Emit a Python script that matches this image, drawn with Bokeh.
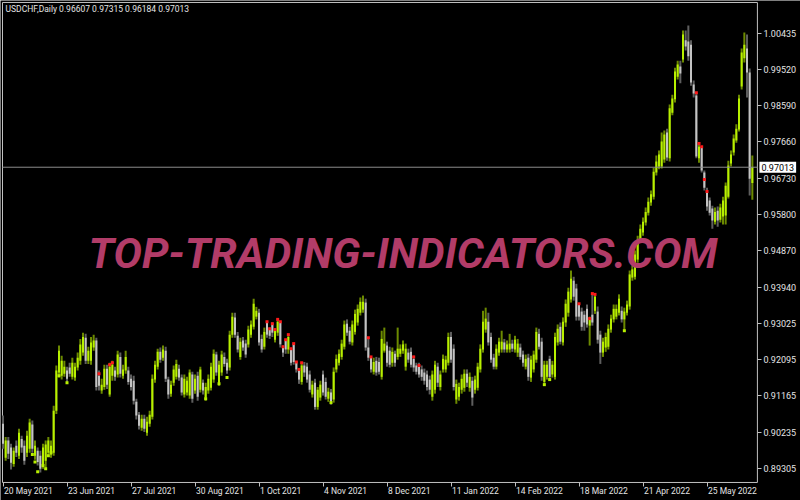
from bokeh.plotting import figure
from bokeh.models import (Range1d, LinearAxis, FixedTicker, Label,
                          ColumnDataSource, PrintfTickFormatter)
from bokeh.embed import file_html
from bokeh.resources import INLINE

# ---------------- data (USDCHF daily) ----------------
header_text = "USDCHF,Daily  0.96607 0.97315 0.96184 0.97013"
watermark_text = "TOP-TRADING-INDICATORS.COM"

opens = [
    .9045, .8958, .9002, .8984, .8942, .8989, .8963, .9006, .8989, .8971,
    .8981, .9043, .8963, .8976, .8963, .8938, .8950, .8971, .8966, .8971,
    .9078, .9176, .9168, .9173, .9181, .9189, .9165, .9163, .9189, .9206,
    .9227, .9265, .9206, .9206, .9240, .9258, .9168, .9130, .9139, .9186,
    .9120, .9168, .9181, .9171, .9216, .9168, .9181, .9181, .9160, .9155,
    .9101, .9068, .9035, .9058, .9022, .9045, .9063, .9158, .9191, .9229,
    .9214, .9232, .9158, .9122, .9150, .9165, .9186, .9163, .9120, .9125,
    .9117, .9171, .9130, .9168, .9132, .9150, .9112, .9130, .9137, .9158,
    .9222, .9150, .9176, .9216, .9201, .9189, .9273, .9317, .9270, .9216,
    .9258, .9250, .9248, .9273, .9293, .9319, .9329, .9262, .9242, .9304,
    .9286, .9299, .9260, .9278, .9304, .9242, .9258, .9235, .9235, .9248,
    .9201, .9184, .9152, .9194, .9191, .9171, .9120, .9150, .9088, .9112,
    .9171, .9152, .9109, .9125, .9107, .9184, .9201, .9216, .9242, .9301,
    .9283, .9253, .9280, .9304, .9329, .9337, .9355, .9240, .9214, .9178,
    .9206, .9203, .9165, .9232, .9245, .9232, .9201, .9224, .9216, .9224,
    .9232, .9191, .9227, .9229, .9211, .9194, .9191, .9184, .9176, .9171,
    .9158, .9114, .9132, .9191, .9139, .9184, .9184, .9201, .9267, .9237,
    .9107, .9114, .9132, .9137, .9173, .9137, .9155, .9132, .9137, .9184,
    .9235, .9286, .9306, .9267, .9214, .9191, .9227, .9235, .9253, .9235,
    .9235, .9250, .9235, .9227, .9240, .9222, .9191, .9214, .9163, .9184,
    .9209, .9275, .9255, .9152, .9165, .9211, .9171, .9165, .9253, .9293,
    .9253, .9304, .9329, .9363, .9411, .9391, .9350, .9332, .9324, .9339,
    .9296, .9324, .9334, .9332, .9273, .9227, .9240, .9242, .9286, .9312,
    .9319, .9329, .9334, .9312, .9329, .9345, .9419, .9421, .9465, .9516,
    .9534, .9560, .9585, .9611, .9626, .9688, .9703, .9703, .9721, .9790,
    .9724, .9841, .9875, .9933, .9959, .9977, 1.0026, 1.0023, 1.0015, .9913,
    .9885, .9724, .9752, .9688, .9642, .9616, .9596, .9562, .9590, .9567,
    .9575, .9578, .9626, .9711, .9739, .9770, .9798, .9908, .9980, 1.0005,
    .9944, .96607,
]
highs = [
    .9066, .9011, .9011, .8994, .8984, .9002, .9032, .9014, .9002, .9027,
    .9058, .9053, .9002, .8984, .8976, .8994, .9002, .9011, .9002, .9091,
    .9194, .9245, .9219, .9206, .9191, .9201, .9214, .9201, .9227, .9262,
    .9278, .9275, .9242, .9267, .9273, .9265, .9181, .9160, .9196, .9196,
    .9201, .9206, .9191, .9232, .9227, .9196, .9232, .9191, .9171, .9168,
    .9109, .9075, .9068, .9068, .9063, .9078, .9171, .9206, .9237, .9240,
    .9245, .9242, .9165, .9155, .9194, .9209, .9196, .9171, .9171, .9165,
    .9184, .9178, .9171, .9178, .9191, .9158, .9150, .9171, .9201, .9235,
    .9229, .9206, .9232, .9227, .9211, .9283, .9329, .9329, .9280, .9265,
    .9267, .9260, .9296, .9309, .9365, .9344, .9339, .9273, .9291, .9306,
    .9291, .9304, .9286, .9312, .9306, .9245, .9260, .9273, .9237, .9250,
    .9203, .9186, .9201, .9203, .9201, .9181, .9155, .9160, .9139, .9155,
    .9181, .9163, .9137, .9134, .9189, .9222, .9235, .9260, .9309, .9312,
    .9293, .9309, .9337, .9350, .9368, .9373, .9365, .9265, .9216, .9214,
    .9216, .9214, .9283, .9291, .9255, .9242, .9240, .9232, .9291, .9248,
    .9258, .9250, .9237, .9240, .9219, .9201, .9201, .9194, .9186, .9181,
    .9168, .9181, .9206, .9201, .9181, .9222, .9219, .9278, .9280, .9248,
    .9158, .9150, .9171, .9184, .9184, .9176, .9165, .9168, .9201, .9248,
    .9334, .9342, .9329, .9278, .9224, .9248, .9265, .9283, .9262, .9258,
    .9275, .9260, .9270, .9262, .9250, .9232, .9222, .9224, .9219, .9232,
    .9291, .9288, .9265, .9206, .9206, .9219, .9206, .9278, .9299, .9304,
    .9317, .9363, .9393, .9437, .9421, .9403, .9352, .9342, .9334, .9350,
    .9319, .9378, .9376, .9345, .9283, .9265, .9278, .9299, .9324, .9350,
    .9350, .9376, .9345, .9342, .9360, .9437, .9450, .9488, .9526, .9555,
    .9573, .9598, .9624, .9642, .9700, .9731, .9744, .9790, .9795, .9800,
    .9862, .9887, .9956, .9974, .9974, 1.0051, 1.0051, 1.0064, 1.0026, .9923,
    .9892, .9762, .9754, .9693, .9649, .9624, .9603, .9598, .9601, .9608,
    .9626, .9662, .9718, .9744, .9785, .9811, .9887, 1.0005, 1.0046, 1.0041,
    .9954, .97315,
]
lows = [
    .8981, .8950, .8955, .8928, .8935, .8960, .8955, .8971, .8940, .8960,
    .8971, .8971, .8953, .8938, .8920, .8930, .8928, .8960, .8958, .8963,
    .9070, .9163, .9158, .9165, .9150, .9165, .9158, .9155, .9181, .9196,
    .9219, .9198, .9198, .9196, .9232, .9130, .9130, .9122, .9132, .9134,
    .9114, .9155, .9155, .9163, .9163, .9160, .9173, .9145, .9130, .9094,
    .9056, .9030, .9027, .9024, .9014, .9037, .9056, .9150, .9184, .9201,
    .9206, .9152, .9109, .9114, .9142, .9158, .9155, .9117, .9112, .9117,
    .9109, .9099, .9122, .9104, .9125, .9120, .9104, .9122, .9130, .9150,
    .9168, .9142, .9168, .9191, .9173, .9181, .9265, .9265, .9227, .9209,
    .9232, .9214, .9240, .9265, .9286, .9312, .9245, .9227, .9235, .9265,
    .9262, .9267, .9253, .9270, .9240, .9216, .9224, .9224, .9194, .9196,
    .9176, .9147, .9145, .9165, .9150, .9125, .9112, .9081, .9081, .9104,
    .9117, .9107, .9101, .9094, .9099, .9176, .9194, .9209, .9235, .9270,
    .9248, .9245, .9273, .9296, .9322, .9329, .9232, .9206, .9176, .9171,
    .9168, .9171, .9158, .9227, .9191, .9189, .9191, .9191, .9209, .9216,
    .9224, .9181, .9201, .9189, .9178, .9171, .9163, .9155, .9145, .9130,
    .9120, .9104, .9122, .9139, .9130, .9176, .9176, .9194, .9201, .9130,
    .9096, .9104, .9122, .9127, .9139, .9127, .9091, .9122, .9130, .9176,
    .9227, .9278, .9245, .9201, .9184, .9184, .9219, .9227, .9227, .9227,
    .9227, .9229, .9227, .9216, .9209, .9191, .9184, .9155, .9152, .9176,
    .9201, .9235, .9155, .9145, .9158, .9158, .9163, .9158, .9245, .9248,
    .9245, .9293, .9319, .9355, .9360, .9309, .9309, .9283, .9283, .9291,
    .9245, .9296, .9326, .9250, .9198, .9216, .9229, .9235, .9278, .9304,
    .9312, .9322, .9304, .9283, .9322, .9337, .9411, .9414, .9457, .9509,
    .9526, .9552, .9578, .9603, .9619, .9680, .9696, .9698, .9713, .9718,
    .9716, .9834, .9867, .9926, .9916, .9969, 1.0000, .9974, .9910, .9880,
    .9724, .9713, .9688, .9642, .9590, .9578, .9544, .9555, .9549, .9560,
    .9555, .9555, .9621, .9703, .9731, .9764, .9793, .9900, .9969, .9880,
    .9629, .96184,
]
closes = [
    .8994, .9002, .8968, .8945, .8976, .8971, .9022, .8984, .8950, .9014,
    .9048, .8981, .8989, .8947, .8930, .8984, .8992, .9002, .8989, .9078,
    .9181, .9232, .9206, .9191, .9160, .9173, .9201, .9191, .9214, .9248,
    .9267, .9206, .9232, .9253, .9258, .9139, .9142, .9145, .9186, .9145,
    .9191, .9196, .9165, .9222, .9173, .9184, .9216, .9152, .9139, .9104,
    .9066, .9040, .9058, .9032, .9050, .9068, .9160, .9196, .9229, .9209,
    .9235, .9160, .9120, .9145, .9184, .9198, .9163, .9125, .9160, .9155,
    .9176, .9109, .9160, .9114, .9184, .9130, .9139, .9160, .9191, .9224,
    .9176, .9196, .9222, .9198, .9181, .9273, .9319, .9273, .9235, .9255,
    .9240, .9222, .9286, .9299, .9352, .9334, .9253, .9235, .9280, .9273,
    .9270, .9278, .9283, .9306, .9248, .9227, .9235, .9267, .9201, .9203,
    .9184, .9158, .9194, .9176, .9158, .9132, .9145, .9088, .9132, .9145,
    .9125, .9114, .9127, .9101, .9178, .9211, .9224, .9250, .9299, .9278,
    .9255, .9299, .9326, .9339, .9357, .9357, .9240, .9214, .9184, .9203,
    .9176, .9178, .9262, .9250, .9201, .9196, .9229, .9201, .9237, .9237,
    .9248, .9237, .9209, .9196, .9189, .9178, .9171, .9165, .9155, .9139,
    .9132, .9171, .9196, .9150, .9171, .9211, .9209, .9267, .9209, .9139,
    .9147, .9139, .9160, .9173, .9150, .9165, .9112, .9158, .9191, .9237,
    .9306, .9314, .9253, .9209, .9191, .9237, .9255, .9255, .9235, .9248,
    .9250, .9237, .9260, .9250, .9216, .9201, .9211, .9165, .9209, .9222,
    .9280, .9242, .9165, .9196, .9196, .9165, .9196, .9267, .9288, .9255,
    .9306, .9352, .9383, .9416, .9370, .9319, .9319, .9293, .9304, .9299,
    .9314, .9304, .9370, .9260, .9227, .9255, .9267, .9288, .9314, .9339,
    .9339, .9365, .9312, .9332, .9350, .9427, .9440, .9478, .9516, .9544,
    .9562, .9587, .9613, .9632, .9690, .9716, .9734, .9767, .9785, .9726,
    .9852, .9877, .9946, .9964, .9941, 1.0041, 1.0010, .9985, .9918, .9890,
    .9729, .9754, .9693, .9649, .9601, .9585, .9565, .9587, .9565, .9598,
    .9616, .9654, .9706, .9734, .9775, .9800, .9877, .9995, 1.0015, .9944,
    .9672, .97013,
]

# bars carrying a red stop mark, and the mark's price
red_idx = [36, 40, 41, 99, 100, 101, 102, 103, 104, 105, 106, 107, 108, 109, 110,
           111, 112, 137, 138, 154, 156, 216, 220, 221, 222, 260, 261, 262, 263, 264]
red_px = [.9173, .9196, .9201, .9306, .9288, .9301, .9286, .9312, .9306, .9242, .9260,
          .9273, .9237, .9250, .9203, .9184, .9201, .9265, .9216, .9216, .9194, .9352,
          .9314, .9378, .9376, .9892, .9762, .9754, .9670, .9639]
# bars carrying a lime stop mark
lime_idx = [11, 12, 13, 15, 16, 17, 18, 21, 24, 76, 81, 84, 123, 203, 205, 233]
lime_px = [.8966, .8947, .8922, .8938, .8930, .8963, .8971, .9168, .9150, .9109,
           .9147, .9163, .9099, .9145, .9158, .9283]

date_ticks = [0, 24, 48, 72, 96, 120, 144, 168, 192, 216, 240, 264]
date_labels = ["20 May 2021", "23 Jun 2021", "27 Jul 2021", "30 Aug 2021",
               "1 Oct 2021", "4 Nov 2021", "8 Dec 2021", "11 Jan 2022",
               "14 Feb 2022", "18 Mar 2022", "21 Apr 2022", "25 May 2022"]
price_ticks = [0.89305, 0.90235, 0.91165, 0.92095, 0.93025, 0.93940, 0.94870,
               0.95800, 0.96730, 0.97660, 0.98590, 0.99520, 1.00435]
price_labels = ["0.89305", "0.90235", "0.91165", "0.92095", "0.93025", "0.93940",
                "0.94870", "0.95800", "0.96730", "0.97660", "0.98590", "0.99520",
                "1.00435"]
last_price = 0.97013
last_label = "0.97013"

# ---------------- layout / styling ----------------
FONT = "Roboto"
TXT = "#e4e4e4"
AXIS = "#c0c0c0"
UP_BODY, UP_WICK = "#b8f000", "#6c8a00"
DN_BODY, DN_WICK = "#c4c4c4", "#5e5e5e"

# the frame fills the canvas; the price area is bounded by the two scales
x_start, x_end = -0.94, 299.06
y_start, y_end = 0.88486, 1.01279
AREA_L, AREA_T = -0.19, 1.01228   # left / top edge of the price area
AX_X = 282.9                      # price scale position (right edge)
AX_Y = 0.88947                    # time scale position (bottom edge)

up = [c >= o for o, c in zip(opens, closes)]
src = ColumnDataSource(dict(
    x=list(range(len(opens))),
    high=highs, low=lows,
    top=[max(o, c) for o, c in zip(opens, closes)],
    bot=[min(o, c) for o, c in zip(opens, closes)],
    wick=[UP_WICK if u else DN_WICK for u in up],
    body=[UP_BODY if u else DN_BODY for u in up],
))

p = figure(width=800, height=500,
           x_range=Range1d(x_start, x_end), y_range=Range1d(y_start, y_end),
           output_backend="svg", toolbar_location=None,
           x_axis_location=None, y_axis_location=None,
           background_fill_color="black", border_fill_color="black",
           outline_line_color=None, min_border=0)
p.grid.grid_line_color = None

# border of the price area
p.quad(left=[AREA_L], right=[AX_X], bottom=[AX_Y], top=[AREA_T],
       fill_color=None, line_color=AXIS, line_width=1)

p.segment(x0="x", y0="low", x1="x", y1="high", line_color="wick",
          line_width=2, line_cap="butt", source=src)
p.segment(x0="x", y0="bot", x1="x", y1="top", line_color="body",
          line_width=2, line_cap="butt", source=src)
p.scatter(x=red_idx, y=red_px, marker="square", size=3,
          fill_color="#ff1a1a", line_color=None)
p.scatter(x=lime_idx, y=lime_px, marker="square", size=3,
          fill_color=UP_BODY, line_color=None)

p.segment(x0=[AREA_L], y0=[last_price], x1=[AX_X], y1=[last_price],
          line_color="#8c8c8c", line_width=1)

yax = LinearAxis(fixed_location=AX_X,
                 ticker=FixedTicker(ticks=price_ticks),
                 formatter=PrintfTickFormatter(format="%.5f"),
                 major_label_overrides={t: s for t, s in zip(price_ticks, price_labels)},
                 axis_line_color=None, major_tick_line_color=AXIS,
                 major_tick_out=4, major_tick_in=0,
                 minor_tick_line_color=None,
                 major_label_text_color=TXT, major_label_text_font=FONT,
                 major_label_text_font_size="9px", major_label_standoff=2)
p.add_layout(yax, "right")

# time scale: tick marks from the axis, labels left-aligned as Labels
xax = LinearAxis(fixed_location=AX_Y,
                 ticker=FixedTicker(ticks=date_ticks),
                 major_label_overrides={t: "" for t in date_ticks},
                 axis_line_color=None, major_tick_line_color=AXIS,
                 major_tick_out=4, major_tick_in=0,
                 minor_tick_line_color=None,
                 major_label_text_font_size="9px", major_label_standoff=2)
p.add_layout(xax, "below")

for t, s in zip(date_ticks, date_labels):
    p.add_layout(Label(x=t, y=AX_Y, x_offset=1, y_offset=-4, text=s,
                       text_align="left", text_baseline="top",
                       text_color=TXT, text_font=FONT, text_font_size="8.5px"))

box = Label(x=AX_X, y=last_price, x_offset=2, text=last_label,
            text_align="left", text_baseline="middle",
            text_color="black", background_fill_color="white",
            text_font=FONT, text_font_size="9px")
try:
    box.padding = 2
except Exception:
    pass
p.add_layout(box)

p.add_layout(Label(x=AREA_L, y=AREA_T, x_offset=3, y_offset=-2, text=header_text,
                   text_align="left", text_baseline="top",
                   text_color=TXT, text_font=FONT, text_font_size="8.5px"))

p.add_layout(Label(x=150.0, y=0.94793, text=watermark_text,
                   text_align="center", text_baseline="middle",
                   text_color="#b23c68", text_font=FONT,
                   text_font_style="bold italic", text_font_size="42.5px"))

open("out.html", "w").write(file_html(p, INLINE))
